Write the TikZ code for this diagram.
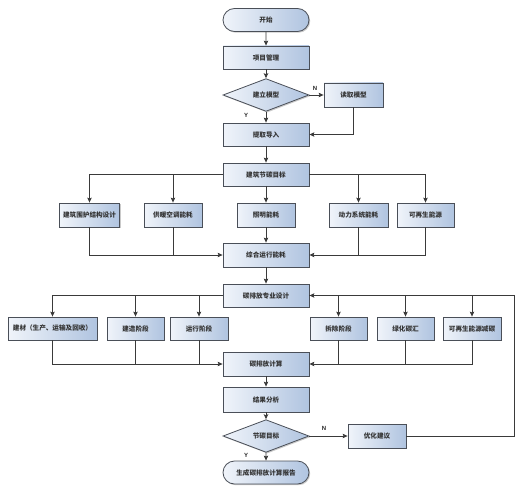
\documentclass[tikz,border=0pt]{standalone}
\usepackage{fontspec}
\newfontfamily\cjk{Noto Sans CJK SC}
\newfontfamily\lat{Liberation Sans}
\usetikzlibrary{shapes.geometric,shapes.misc,arrows.meta,shadows}
\definecolor{boxL}{HTML}{F0F4FA}
\definecolor{boxR}{HTML}{B0C4E0}
\definecolor{edge}{HTML}{3A3A3A}
\definecolor{bord}{HTML}{4A4F58}
\tikzset{
  base/.style={draw=bord, line width=0.8pt, left color=boxL, right color=boxR,
    font=\cjk\bfseries\fontsize{6.6}{8}\selectfont, inner sep=0pt, text=black!80,
    drop shadow={shadow xshift=1.2pt, shadow yshift=-1.2pt, opacity=0.35, fill=black!60}},
  pbox/.style={base, rectangle, minimum height=23pt},
  term/.style={base, rounded rectangle, minimum width=86pt, minimum height=23pt},
  dec/.style={base, diamond, minimum width=86pt, minimum height=23pt},
  conn/.style={draw=edge, line width=0.8pt},
  arr/.style={conn, -{Stealth[length=5pt,width=4.5pt,inset=1pt]}},
  yn/.style={font=\lat\bfseries\fontsize{6}{7}\selectfont, text=black!85}
}
\begin{document}
\begin{tikzpicture}[x=1pt,y=-1pt]
\useasboundingbox (0,0) rectangle (525,495);
\node[term] (start) at (266,20) {开始};
\node[pbox, minimum width=86pt] (pm) at (266,57.5) {项目管理};
\node[dec] (dec1) at (266,95) {建立模型};
\node[pbox, minimum width=59pt, minimum height=24pt] (read) at (353.5,95) {读取模型};
\node[pbox, minimum width=86pt] (extract) at (266,134.5) {提取导入};
\node[pbox, minimum width=86pt] (target) at (266,174.5) {建筑节碳目标};
\node[pbox, minimum width=60pt, minimum height=24pt] (e1) at (89.5,215) {建筑围护结构设计};
\node[pbox, minimum width=58pt, minimum height=24pt] (e2) at (173,215) {供暖空调能耗};
\node[pbox, minimum width=58pt, minimum height=24pt] (e3) at (266,215) {照明能耗};
\node[pbox, minimum width=59pt, minimum height=24pt] (e4) at (358.5,215) {动力系统能耗};
\node[pbox, minimum width=57pt, minimum height=24pt] (e5) at (425.5,215) {可再生能源};
\node[pbox, minimum width=86pt, minimum height=24pt] (comb) at (266,255) {综合运行能耗};
\node[pbox, minimum width=86pt] (design) at (266,295.5) {碳排放专业设计};
\node[pbox, minimum width=89pt] (d1) at (52.5,328.5) {建材（生产、运输及回收）};
\node[pbox, minimum width=57pt] (d2) at (135.5,328.5) {建造阶段};
\node[pbox, minimum width=58pt] (d3) at (199,328.5) {运行阶段};
\node[pbox, minimum width=57pt] (d4) at (338.5,328.5) {拆除阶段};
\node[pbox, minimum width=57pt] (d5) at (405.5,328.5) {绿化碳汇};
\node[pbox, minimum width=58pt] (d6) at (472,328.5) {可再生能源减碳};
\node[pbox, minimum width=86pt, minimum height=24pt] (calc) at (266,364) {碳排放计算};
\node[pbox, minimum width=86pt, minimum height=25pt] (result) at (266,399.5) {结果分析};
\node[dec] (dec2) at (266,436) {节碳目标};
\node[pbox, minimum width=58pt, minimum height=24pt] (opt) at (377,436) {优化建议};
\node[term] (report) at (266,472.5) {生成碳排放计算报告};
\coordinate (loop) at (514,436);

\draw[arr] (start) -- (pm);
\draw[arr] (pm) -- (dec1);
\draw[arr] (dec1) -- (extract);
\draw[arr] (dec1) -- (read);
\draw[arr] (read.south) |- (extract.east);
\draw[arr] (extract) -- (target);
\draw[arr] (target.west) -| (e1.north);
\draw[arr] (target.west) -| (e2.north);
\draw[arr] (target) -- (e3);
\draw[arr] (target.east) -| (e4.north);
\draw[arr] (target.east) -| (e5.north);
\draw[arr] (e1.south) |- (comb.west);
\draw[conn] (e2.south) -- (e2.south |- comb.west);
\draw[arr] (e3) -- (comb);
\draw[arr] (e5.south) |- (comb.east);
\draw[conn] (e4.south) -- (e4.south |- comb.east);
\draw[arr] (comb) -- (design);
\draw[arr] (design.west) -| (d1.north);
\draw[arr] (design.west) -| (d2.north);
\draw[arr] (design.west) -| (d3.north);
\draw[arr] (design.east) -| (d4.north);
\draw[arr] (design.east) -| (d5.north);
\draw[arr] (design.east) -| (d6.north);
\draw[arr] (d1.south) |- (calc.west);
\draw[conn] (d2.south) -- (d2.south |- calc.west);
\draw[conn] (d3.south) -- (d3.south |- calc.west);
\draw[arr] (d6.south) |- (calc.east);
\draw[conn] (d4.south) -- (d4.south |- calc.east);
\draw[conn] (d5.south) -- (d5.south |- calc.east);
\draw[arr] (calc) -- (result);
\draw[arr] (result) -- (dec2);
\draw[arr] (dec2) -- (report);
\draw[arr] (dec2) -- (opt);
\draw[arr] (opt.east) -- (loop) |- (design.east);

\node[yn] (n1) at (315,88) {N};
\node[yn] (y1) at (246,115) {Y};
\node[yn] (n2) at (324,428) {N};
\node[yn] (y2) at (246,455) {Y};
\end{tikzpicture}
\end{document}
